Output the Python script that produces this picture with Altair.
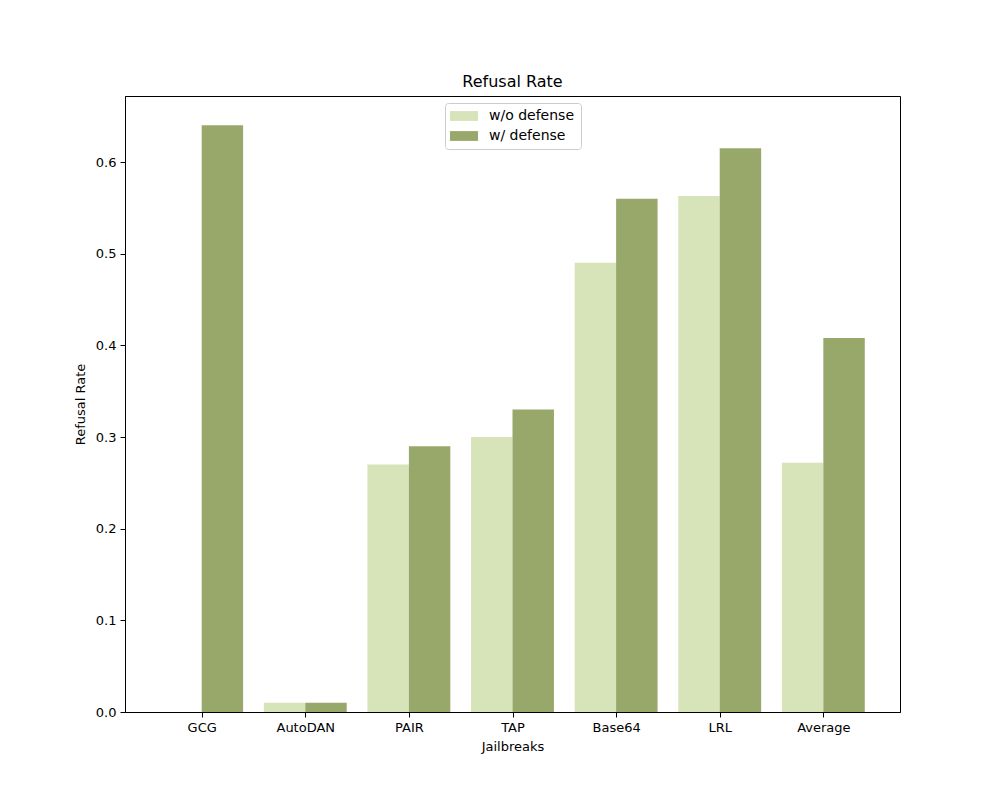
import altair as alt
import pandas as pd

categories = ["GCG", "AutoDAN", "PAIR", "TAP", "Base64", "LRL", "Average"]
without_defense = [0.0, 0.01, 0.27, 0.30, 0.49, 0.563, 0.272]
with_defense = [0.64, 0.01, 0.29, 0.33, 0.56, 0.615, 0.408]
series_names = ["w/o defense", "w/ defense"]
colors = ["#d7e3b9", "#98a86a"]

rows = []
for i, c in enumerate(categories):
    rows.append({"cat": c, "idx": i, "s": 0, "series": series_names[0], "value": without_defense[i]})
    rows.append({"cat": c, "idx": i, "s": 1, "series": series_names[1], "value": with_defense[i]})
df = pd.DataFrame(rows)

label_expr = "[" + ",".join("'%s'" % c for c in categories) + "][datum.value]"

font = "DejaVu Sans"

bars = alt.Chart(df).transform_calculate(
    x0="datum.idx - 0.4 + 0.4*datum.s",
    x1="datum.idx + 0.4*datum.s",
).mark_bar().encode(
    x=alt.X("x0:Q",
            scale=alt.Scale(domain=[-0.74, 6.74], nice=False, zero=False),
            axis=alt.Axis(values=list(range(len(categories))), labelExpr=label_expr,
                          title="Jailbreaks", grid=False, tickSize=5, labelPadding=4,
                          titlePadding=6)),
    x2="x1:Q",
    y=alt.Y("value:Q",
            scale=alt.Scale(domain=[0, 0.672], nice=False),
            axis=alt.Axis(values=[0, 0.1, 0.2, 0.3, 0.4, 0.5, 0.6], format=".1f",
                          title="Refusal Rate", grid=False, tickSize=5, labelPadding=4,
                          titlePadding=8)),
    y2=alt.datum(0),
    color=alt.Color("series:N",
                    scale=alt.Scale(domain=series_names, range=colors),
                    sort=series_names,
                    legend=alt.Legend(title=None, orient="none", legendX=320, legendY=7,
                                      symbolType="M-2,-0.7H2V0.7H-2Z", symbolSize=196,
                                      symbolStrokeWidth=0, strokeColor="#cccccc",
                                      fillColor="white", cornerRadius=3, padding=6,
                                      labelFontSize=14, labelFont=font, rowPadding=6,
                                      symbolOffset=6, labelOffset=18)),
)

chart = bars.properties(
    width=775, height=616,
    title=alt.TitleParams("Refusal Rate", fontSize=16, font=font, fontWeight="normal", offset=6),
    autosize=alt.AutoSizeParams(type="none"),
    padding={"left": 117, "top": 88, "right": 92, "bottom": 80},
).configure_view(
    stroke="black", strokeWidth=1
).configure_axis(
    labelFont=font, titleFont=font, labelFontSize=13, titleFontSize=13,
    titleFontWeight="normal", labelColor="black", titleColor="black",
    domainColor="black", tickColor="black", domainWidth=1, tickWidth=1,
)

chart.save("out.html", embed_options={"renderer": "svg", "actions": False})
